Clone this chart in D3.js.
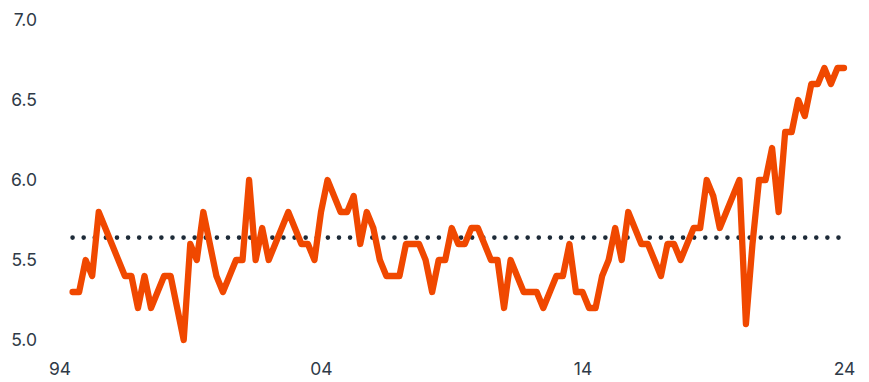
<!DOCTYPE html>
<html>
<head>
<meta charset="utf-8">
<script src="https://cdn.jsdelivr.net/npm/d3@7"></script>
<style>
  body { margin: 0; background: #fff; }
  .axis text { font-family: Inter, "Noto Sans", sans-serif; font-size: 17.5px; fill: #2f3a47; }
</style>
</head>
<body>
<svg id="chart"></svg>
<script>
// quarterly values, Q3 1994 .. Q1 2024
var startYear = 1994.5;
var values = [
  5.3, 5.3, 5.5, 5.4, 5.8, 5.7, 5.6, 5.5, 5.4, 5.4,
  5.2, 5.4, 5.2, 5.3, 5.4, 5.4, 5.2, 5.0, 5.6, 5.5,
  5.8, 5.6, 5.4, 5.3, 5.4, 5.5, 5.5, 6.0, 5.5, 5.7,
  5.5, 5.6, 5.7, 5.8, 5.7, 5.6, 5.6, 5.5, 5.8, 6.0,
  5.9, 5.8, 5.8, 5.9, 5.6, 5.8, 5.7, 5.5, 5.4, 5.4,
  5.4, 5.6, 5.6, 5.6, 5.5, 5.3, 5.5, 5.5, 5.7, 5.6,
  5.6, 5.7, 5.7, 5.6, 5.5, 5.5, 5.2, 5.5, 5.4, 5.3,
  5.3, 5.3, 5.2, 5.3, 5.4, 5.4, 5.6, 5.3, 5.3, 5.2,
  5.2, 5.4, 5.5, 5.7, 5.5, 5.8, 5.7, 5.6, 5.6, 5.5,
  5.4, 5.6, 5.6, 5.5, 5.6, 5.7, 5.7, 6.0, 5.9, 5.7,
  5.8, 5.9, 6.0, 5.1, 5.6, 6.0, 6.0, 6.2, 5.8, 6.3,
  6.3, 6.5, 6.4, 6.6, 6.6, 6.7, 6.6, 6.7, 6.7
];
var averageLevel = 5.64;
var yTicks = [5.0, 5.5, 6.0, 6.5, 7.0];
var xTicks = [1994, 2004, 2014, 2024];

var width = 869, height = 382;

var svg = d3.select('#chart')
  .attr('width', width)
  .attr('height', height);

var x = d3.scaleLinear().domain([1994, 2024]).range([59.5, 844]);
var y = d3.scaleLinear().domain([5, 7]).range([340, 20]);

var data = values.map(function (v, i) {
  return { t: startYear + i * 0.25, v: v };
});

// y axis labels
svg.append('g')
  .attr('class', 'axis')
  .attr('transform', 'translate(37,0)')
  .call(d3.axisLeft(y).tickValues(yTicks).tickFormat(d3.format('.1f')).tickSize(0).tickPadding(0))
  .call(function (g) { g.select('.domain').remove(); });

// x axis labels
svg.append('g')
  .attr('class', 'axis')
  .attr('transform', 'translate(0,363)')
  .call(d3.axisBottom(x).tickValues(xTicks).tickFormat(function (d) { return String(d).slice(2); }).tickSize(0).tickPadding(0))
  .call(function (g) { g.select('.domain').remove(); });

// dotted average line
svg.append('line')
  .attr('x1', x(data[0].t))
  .attr('x2', x(data[data.length - 1].t))
  .attr('y1', y(averageLevel))
  .attr('y2', y(averageLevel))
  .attr('stroke', '#1e2b38')
  .attr('stroke-width', 4.6)
  .attr('stroke-linecap', 'round')
  .attr('stroke-dasharray', '0 11.1');

var line = d3.line()
  .x(function (d) { return x(d.t); })
  .y(function (d) { return y(d.v); });

svg.append('path')
  .datum(data)
  .attr('d', line)
  .attr('fill', 'none')
  .attr('stroke', '#f04800')
  .attr('stroke-width', 6.3)
  .attr('stroke-linejoin', 'round')
  .attr('stroke-linecap', 'round');
</script>
</body>
</html>
